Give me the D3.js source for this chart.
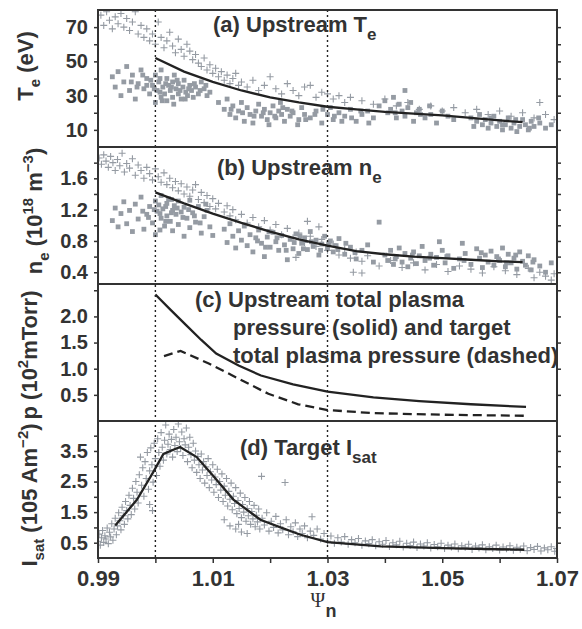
<!DOCTYPE html>
<html>
<head>
<meta charset="utf-8">
<script src="https://cdn.jsdelivr.net/npm/d3@7"></script>
<style>
body { margin: 0; background: #fff; }
text { font-family: "Liberation Sans", Arial, sans-serif; font-weight: bold; fill: #333; }
</style>
</head>
<body>
<svg id="chart" width="582" height="629"></svg>
<script>
// ---- data ----
const psiTicks = [0.99, 1.00, 1.01, 1.02, 1.03, 1.04, 1.05, 1.06, 1.07];
const psiLabels = [0.99, 1.01, 1.03, 1.05, 1.07];
const separatrixMarks = [1.00, 1.03];

const teTicks = [10, 20, 30, 40, 50, 60, 70];
const teLabels = [10, 30, 50, 70];
const neTicks = [0.4, 0.6, 0.8, 1.0, 1.2, 1.4, 1.6, 1.8];
const neLabels = [0.4, 0.8, 1.2, 1.6];
const pTicks = [0.5, 1.0, 1.5, 2.0, 2.5];
const pLabels = [0.5, 1.0, 1.5, 2.0];
const isatTicks = [0.5, 1.0, 1.5, 2.0, 2.5, 3.0, 3.5, 4.0];
const isatLabels = [0.5, 1.5, 2.5, 3.5];

// (a) upstream Te
const teCrosses = [[0.9905,77],[0.991,71],[0.9915,79],[0.992,74],[0.9925,69],[0.993,76],[0.9935,72],[0.994,78],[0.9945,70],[0.995,75],[0.9955,68],[0.996,73],[0.9965,79],[0.997,66],[0.9975,71],[0.998,64],[0.9985,69],[0.999,62],[0.9995,66],[1.0,60],[1.0005,73],[1.001,64],[1.0015,58],[1.002,62],[1.0025,67],[1.003,59],[1.0035,55],[1.004,63],[1.0045,57],[1.005,53],[1.0055,60],[1.006,56],[1.0065,51],[1.007,54],[1.0075,49],[1.008,47],[1.0085,52],[1.009,45],[1.0095,48],[1.010,43],[1.0105,46],[1.011,41],[1.0115,44],[1.012,39],[1.0125,42],[1.013,37],[1.0135,40],[1.014,43],[1.0145,36],[1.015,38],[1.016,35],[1.017,39],[1.018,33],[1.019,36],[1.020,41],[1.021,34],[1.022,31],[1.023,37],[1.024,33],[1.025,30],[1.026,35],[1.027,36],[1.028,29],[1.029,32],[1.030,31],[1.031,28],[1.032,30],[1.033,26],[1.034,29],[1.036,27],[1.038,25],[1.040,28],[1.042,24],[1.044,26],[1.046,22],[1.048,24],[1.050,21],[1.052,23],[1.054,20],[1.056,22],[1.058,19],[1.060,21],[1.062,18],[1.064,20],[1.066,17],[1.068,19],[1.0695,16],[1.067,26]];
const teSquares = [[0.9925,41],[0.993,35],[0.9935,44],[0.994,30],[0.9945,38],[0.995,47],[0.9955,33],[0.996,42],[0.9965,28],[0.997,37],[0.9975,45],[0.998,34],[0.9985,40],[0.999,31],[0.9995,36],[1.0,26],[1.0,42],[1.0003,33],[1.0006,38],[1.001,29],[1.001,45],[1.0013,35],[1.0016,31],[1.002,40],[1.002,27],[1.0023,36],[1.0026,33],[1.003,38],[1.003,29],[1.0033,42],[1.0036,34],[1.004,31],[1.004,37],[1.0045,28],[1.0048,35],[1.005,39],[1.0053,32],[1.0056,30],[1.006,36],[1.0063,33],[1.0066,29],[1.007,35],[1.0075,31],[1.008,38],[1.0085,34],[1.009,30],
  [0.9985,36],[0.9992,39],[0.9998,34],[1.0008,32],[1.0018,37],[1.0028,35],[1.0038,39],[1.0043,33],[1.0058,34],[1.0068,37],[1.0078,33],[1.0088,36],[1.0008,40],[1.0012,27],[0.9978,42],[0.9968,35],[1.0052,28],[1.0032,25],[0.9958,38],[1.0095,32],
  [1.011,26],[1.012,22],[1.0125,28],[1.013,19],[1.0135,24],[1.014,17],[1.0145,21],[1.015,26],[1.0155,15],[1.016,23],[1.0165,19],[1.017,14],[1.0175,21],[1.018,25],[1.0185,18],[1.019,22],[1.0195,16],[1.020,20],[1.0205,24],[1.021,17],[1.0215,21],[1.022,19],[1.0225,15],[1.023,22],[1.0235,18],[1.024,20],[1.025,16],[1.0255,23],[1.026,19],[1.027,17],[1.028,21],[1.029,14],[1.030,19],[1.0305,23],[1.031,16],[1.032,20],[1.033,18],[1.034,22],[1.035,15],[1.036,19],[1.037,21],[1.038,17],
  [1.0172,18],[1.0188,20],[1.0208,18],[1.0222,23],[1.0238,21],[1.0262,16],[1.0278,19],[1.0292,22],[1.0312,18],[1.0325,15],[1.0342,17],[1.0358,21],[1.0152,20],[1.0132,22],[1.0198,13],[1.0248,13],[1.0218,26],[1.0372,14],
  [1.039,24],[1.040,27],[1.0405,20],[1.041,22],[1.0415,29],[1.042,17],[1.0425,25],[1.043,21],[1.0435,18],[1.0435,33],[1.044,23],[1.0445,26],[1.045,15],[1.0455,20],[1.046,22],[1.047,17],[1.048,19],[1.049,14],[1.050,21],[1.051,18],[1.052,16],[1.0462,19],[1.0478,24],[1.0418,20],
  [1.055,17],[1.0555,12],[1.056,15],[1.0565,19],[1.057,13],[1.0575,16],[1.058,11],[1.0585,14],[1.059,18],[1.0595,12],[1.060,15],[1.0605,10],[1.061,13],[1.0615,17],[1.062,11],[1.0625,14],[1.063,9],[1.0635,12],[1.064,16],[1.0645,13],[1.065,10],[1.0655,15],[1.066,12],[1.067,14],[1.068,11],[1.069,13],[1.0585,17],[1.0605,13],[1.0628,16],[1.0652,11],[1.0668,17]];
const teFit = [[1.000,52],[1.005,44],[1.010,38],[1.015,33],[1.020,29],[1.025,26],[1.030,23.5],[1.035,22],[1.040,20.5],[1.045,19.5],[1.050,18.5],[1.055,17],[1.060,15.5],[1.064,14.5]];

// (b) upstream ne
const neCrosses = [[0.9902,1.86],[0.9906,1.78],[0.991,1.90],[0.9914,1.82],[0.9918,1.74],[0.9922,1.88],[0.9926,1.80],[0.993,1.70],[0.9934,1.84],[0.9938,1.76],[0.9942,1.92],[0.9946,1.68],[0.995,1.79],[0.9955,1.73],[0.996,1.85],[0.9965,1.64],[0.997,1.77],[0.9975,1.70],[0.998,1.60],[0.9985,1.74],[0.999,1.66],[0.9995,1.58],[1.0,1.72],[1.0005,1.62],[1.001,1.55],[1.0015,1.67],[1.002,1.52],[1.0025,1.60],[1.003,1.48],[1.0035,1.56],[1.004,1.44],[1.0045,1.53],[1.005,1.40],[1.0055,1.49],[1.006,1.37],[1.0065,1.45],[1.007,1.52],[1.0075,1.33],[1.008,1.42],[1.0085,1.29],[1.009,1.38],[1.0095,1.24],[1.010,1.34],[1.0105,1.21],[1.011,1.28],[1.012,1.17],[1.0125,1.25],[1.013,1.12],[1.0135,1.20],[1.014,1.07],[1.015,1.14],[1.016,1.03],[1.017,1.10],[1.018,0.98],[1.019,1.06],[1.020,0.94],[1.021,1.01],[1.022,0.88],[1.023,0.96],[1.024,0.84],[1.025,0.90],[1.026,0.78],[1.027,0.86],[1.028,0.73],[1.029,0.82],[1.030,0.68],[1.031,0.76],[1.032,0.62],[1.033,0.70],[1.034,0.58],[1.035,0.66],[1.036,0.54],[1.037,0.61],[1.039,0.48],[1.041,0.55],[1.043,0.46],[1.045,0.52],[1.047,0.43],[1.049,0.50],[1.051,0.41],[1.053,0.48],[1.055,0.44],[1.057,0.39],[1.059,0.47],[1.061,0.42],[1.063,0.37],[1.065,0.45],[1.066,0.33],[1.067,0.40],[1.068,0.35],[1.069,0.30],[1.0695,0.38],[1.0265,1.05],[1.0285,0.98],[1.0245,0.59],[1.0345,0.40],[1.036,0.39]];
const neSquares = [[0.9925,1.06],[0.993,1.22],[0.9935,0.98],[0.994,1.15],[0.9945,1.30],[0.995,1.02],[0.9955,1.19],[0.996,0.92],[0.9965,1.27],[0.997,1.08],[0.9975,1.36],[0.998,0.95],[0.9985,1.14],[0.999,1.24],[0.9995,1.03],[1.0,1.31],[1.0,0.88],[1.0003,1.18],[1.0006,1.26],[1.001,1.09],[1.001,1.38],[1.0013,1.21],[1.0016,0.99],[1.002,1.28],[1.002,1.12],[1.0023,1.34],[1.0026,1.05],[1.003,1.19],[1.003,0.93],[1.0033,1.25],[1.0036,1.14],[1.004,1.31],[1.004,1.01],[1.0045,1.17],[1.005,0.86],[1.005,1.23],[1.0055,1.09],[1.006,1.32],[1.006,0.97],[1.0065,1.16],[1.007,1.04],[1.0075,1.24],[1.008,0.90],[1.0085,1.11],[1.009,1.19],[1.0095,0.98],[1.010,0.87],
  [0.9988,1.10],[0.9998,1.20],[1.0008,1.15],[1.0018,1.24],[1.0028,1.16],[1.0038,1.22],[1.0048,1.10],[1.0058,1.20],[1.0068,1.12],[1.0018,1.05],[1.0028,1.33],[1.0008,0.94],[0.9978,1.18],[1.0078,1.03],[1.0088,1.27],
  [1.012,0.95],[1.0125,0.78],[1.013,1.02],[1.0135,0.86],[1.014,0.71],[1.0145,0.93],[1.015,0.81],[1.0155,0.99],[1.016,0.74],[1.0165,0.88],[1.017,0.66],[1.0175,0.84],[1.018,0.94],[1.0185,0.77],[1.019,0.60],[1.0195,0.85],[1.020,0.72],[1.0205,0.91],[1.021,0.79],[1.0215,0.68],[1.022,0.87],[1.0225,0.75],[1.023,0.56],[1.0235,0.82],[1.024,0.70],[1.0245,0.89],[1.025,0.64],[1.0255,0.77],[1.026,0.84],[1.0265,0.69],[1.027,0.92],[1.0275,0.73],[1.028,0.81],[1.0285,0.62],[1.029,0.76],[1.0295,0.86],[1.030,0.71],[1.0305,0.80],[1.031,0.66],[1.0315,0.74],[1.032,0.83],[1.033,0.63],[1.034,0.72],[1.035,0.57],[1.036,0.68],[1.037,0.75],[1.038,0.53],[1.039,1.04],
  [1.0178,0.80],[1.0192,0.72],[1.0212,0.84],[1.0228,0.68],[1.0242,0.78],[1.0258,0.70],[1.0272,0.79],[1.0288,0.68],[1.0302,0.76],[1.0318,0.69],[1.0332,0.77],[1.0348,0.65],[1.0198,0.92],[1.0252,0.86],
  [1.040,0.62],[1.0405,0.55],[1.041,0.68],[1.0415,0.50],[1.042,0.60],[1.0425,0.71],[1.043,0.53],[1.0435,0.64],[1.044,0.47],[1.0445,0.58],[1.045,0.66],[1.0455,0.51],[1.046,0.61],[1.0465,0.73],[1.047,0.55],[1.048,0.63],[1.0485,0.49],[1.049,0.59],[1.050,0.68],[1.0505,0.52],[1.051,0.61],[1.052,0.45],[1.053,0.57],[1.054,0.64],[1.055,0.50],[1.056,0.70],[1.0565,0.58],[1.057,0.46],[1.0575,0.62],[1.058,0.53],[1.0585,0.67],[1.059,0.49],[1.0595,0.60],[1.060,0.55],[1.0605,0.71],[1.061,0.47],[1.0615,0.63],[1.062,0.52],[1.0625,0.58],[1.063,0.44],[1.0635,0.66],[1.064,0.54],[1.0645,0.49],[1.065,0.61],[1.0655,0.43],[1.066,0.56],[1.067,0.48],[1.068,0.40],[1.069,0.52],[1.0495,0.79],[1.0535,0.77],
  [1.0418,0.57],[1.0448,0.62],[1.0478,0.58],[1.0508,0.60],[1.0538,0.55],[1.0568,0.65],[1.0598,0.57],[1.0628,0.62],[1.0658,0.53],[1.0612,0.52]];
const neFit = [[1.000,1.42],[1.005,1.28],[1.010,1.15],[1.015,1.03],[1.020,0.92],[1.025,0.82],[1.030,0.74],[1.035,0.67],[1.040,0.63],[1.045,0.60],[1.050,0.58],[1.055,0.56],[1.060,0.54],[1.064,0.53]];

// (c) total plasma pressure
const pUpstream = [[1.000,2.42],[1.0027,2.12],[1.0054,1.83],[1.008,1.55],[1.0106,1.29],[1.0145,1.06],[1.0184,0.87],[1.024,0.70],[1.030,0.56],[1.038,0.45],[1.046,0.38],[1.055,0.32],[1.0646,0.27]];
const pTarget = [[1.0015,1.24],[1.0044,1.34],[1.0093,1.10],[1.0145,0.81],[1.0197,0.52],[1.0249,0.32],[1.030,0.21],[1.038,0.15],[1.050,0.12],[1.0646,0.10]];

// (d) target Isat
const isatCrosses = [[0.9900,0.55],[0.9902,0.78],[0.9904,0.42],[0.9906,0.66],[0.9908,0.90],[0.9910,0.51],[0.9912,0.73],[0.9914,0.62],[0.9916,0.98],[0.9918,0.47],[0.9920,0.84],[0.9922,0.69],[0.9924,1.12],[0.9926,0.58],[0.9928,0.95],[0.9930,1.30],[0.9932,0.76],[0.9934,1.05],
  [0.9936,1.48],[0.9938,1.22],[0.9940,0.92],[0.9942,1.66],[0.9944,1.38],[0.9946,1.10],[0.9948,1.85],[0.9950,1.55],[0.9952,1.28],[0.9954,2.05],[0.9956,1.72],[0.9958,1.42],[0.9960,2.28],[0.9962,1.95],[0.9964,1.60],[0.9966,2.50],[0.9968,2.15],[0.9970,1.80],[0.9972,2.72],[0.9974,3.30],[0.9976,2.38],[0.9978,2.95],[0.9980,2.02],[0.9982,3.15],[0.9984,2.60],[0.9986,3.45],[0.9988,2.25],[0.9990,2.85],[0.9990,1.75],[0.9992,3.60],[0.9994,3.05],[0.9995,1.55],[0.9996,2.48],[0.9998,3.75],[1.0000,3.25],[1.0002,2.70],[1.0004,3.90],[1.0006,3.45],[1.0008,3.00],[1.0010,4.10],[1.0012,3.62],[1.0014,3.20],[1.0016,3.85],[1.0018,4.35],[1.0020,3.40],[1.0022,3.72],[1.0024,4.05],[1.0026,3.55],[1.0028,3.88],[1.0030,3.30],[1.0032,4.20],[1.0034,3.68],[1.0036,3.95],[1.0038,3.48],[1.0040,4.38],[1.0042,3.80],[1.0044,3.58],[1.0046,4.12],[1.0048,3.35],[1.0050,3.90],[1.0052,3.70],[1.0054,4.25],[1.0056,3.15],[1.0058,3.62],[1.0060,3.95],[1.0062,3.38],[1.0064,2.95],[1.0066,3.75],[1.0068,3.20],[1.0070,3.50],[1.0072,2.80],[1.0074,3.32],[1.0076,3.05],[1.0078,2.60],[1.0080,3.40],[1.0082,2.88],[1.0084,3.15],[1.0086,2.45],[1.0088,2.98],[1.0090,2.70],[1.0092,3.25],[1.0094,2.30],[1.0096,2.82],[1.0098,2.55],[1.0100,3.05],[1.0102,2.15],[1.0104,2.65],[1.0106,2.40],[1.0108,2.90],[1.0110,1.98],[1.0112,2.50],[1.0114,2.22],[1.0116,2.75],[1.0118,1.85],[1.0120,2.35],[1.0120,1.25],[1.0122,2.05],[1.0124,2.60],[1.0126,1.70],[1.0128,2.18],[1.0130,1.92],[1.0130,1.05],[1.0132,2.45],[1.0134,1.58],[1.0136,2.02],[1.0138,1.78],[1.0140,2.30],[1.0140,0.95],[1.0142,1.45],[1.0144,1.88],[1.0145,1.10],[1.0146,1.62],[1.0148,2.12],[1.0150,1.32],[1.0150,0.85],[1.0152,1.75],[1.0154,1.50],[1.0156,1.98],[1.0158,1.20],[1.0160,1.62],[1.0160,0.80],[1.0162,1.38],[1.0164,1.85],[1.0166,1.10],[1.0168,1.52],[1.0170,1.28],[1.0172,1.72],[1.0174,1.02],[1.0176,1.40],[1.0178,1.18],[1.0180,1.60],[1.0182,0.95],[1.0185,2.67],[1.0186,1.30],[1.0190,1.08],[1.0194,1.48],[1.0198,0.88],[1.0202,1.20],[1.0206,1.00],[1.0210,1.36],[1.0214,0.82],[1.0218,1.12],[1.0222,0.92],[1.0226,2.47],[1.0228,1.25],[1.0232,0.76],[1.0236,1.02],[1.0240,0.86],[1.0244,1.15],[1.0248,0.70],[1.0252,0.95],[1.0256,0.80],[1.0260,1.05],[1.0265,0.66],[1.0270,0.88],[1.0273,1.35],[1.0276,0.74],[1.0282,0.95],[1.0288,0.62],[1.0294,0.80],[1.0300,0.55],[1.0306,0.72],[1.0312,0.48],[1.0318,0.66],[1.0324,0.52],[1.0330,0.70],[1.0336,0.45],[1.0342,0.60],[1.0348,0.50],[1.0354,0.64],[1.0360,0.42],[1.0366,0.56],[1.0372,0.47],[1.0378,0.60],[1.0384,0.40],[1.0390,0.53],[1.0396,0.45],[1.0402,0.57],[1.0408,0.38],[1.0414,0.50],[1.0420,0.43],[1.0426,0.55],[1.0432,0.36],[1.0438,0.48],[1.0444,0.41],[1.0450,0.52],[1.0456,0.34],[1.0462,0.46],[1.0468,0.39],[1.0474,0.50],[1.0480,0.33],[1.0486,0.44],[1.0492,0.37],[1.0498,0.48],[1.0504,0.31],[1.0510,0.42],[1.0516,0.36],[1.0522,0.46],[1.0528,0.30],[1.0534,0.40],[1.0540,0.35],[1.0546,0.45],[1.0552,0.28],[1.0558,0.39],[1.0564,0.33],[1.0570,0.43],[1.0576,0.27],[1.0582,0.37],[1.0588,0.31],[1.0594,0.42],[1.0600,0.26],[1.0606,0.36],[1.0612,0.30],[1.0618,0.40],[1.0624,0.25],[1.0630,0.35],[1.0636,0.29],[1.0642,0.39],[1.0648,0.24],[1.0654,0.34],[1.0660,0.28],[1.0666,0.38],[1.0672,0.23],[1.0678,0.33],[1.0684,0.27],[1.0690,0.37],[1.0696,0.22],[1.0699,0.31]];
const isatFit = [[0.993,1.06],[0.9968,1.91],[0.9996,2.8],[1.0014,3.4],[1.0043,3.63],[1.0072,3.3],[1.0101,2.68],[1.0136,1.91],[1.0183,1.25],[1.0218,1.0],[1.0253,0.76],[1.030,0.52],[1.0393,0.38],[1.050,0.32],[1.0643,0.27]];

// ---- layout ----
const svg = d3.select("#chart");
const x = d3.scaleLinear().domain([0.99, 1.07]).range([98, 557]);
const panelTop = [10, 147, 284, 421];
const panelH = 137;
const ink = "#333";
const dotGray = "#959ba3";

const yTe = d3.scaleLinear().domain([0, 80]).range([panelTop[0] + panelH, panelTop[0]]);
const yNe = d3.scaleLinear().domain([0.25, 2.0]).range([panelTop[1] + panelH, panelTop[1]]);
const yP = d3.scaleLinear().domain([0, 2.62]).range([panelTop[2] + panelH, panelTop[2]]);
const yIsat = d3.scaleLinear().domain([0, 4.48]).range([panelTop[3] + panelH, panelTop[3]]);

const fmt = d3.format(".1f");

const drawPanel = (i, y, ticks, labels, tickFmt) => {
    const top = panelTop[i];
    svg.append("clipPath").attr("id", "clip" + i)
        .append("rect").attr("x", x.range()[0]).attr("y", top)
        .attr("width", x.range()[1] - x.range()[0]).attr("height", panelH);

    const left = svg.append("g").attr("transform", `translate(${x.range()[0]},0)`)
        .call(d3.axisLeft(y).tickValues(ticks).tickSize(4).tickPadding(6)
            .tickFormat(d => labels.includes(d) ? tickFmt(d) : ""));
    left.select(".domain").remove();
    left.selectAll("line").attr("stroke", ink).attr("stroke-width", 1.5);
    left.selectAll("text").style("font-size", "20px");

    const right = svg.append("g").attr("transform", `translate(${x.range()[1]},0)`)
        .call(d3.axisRight(y).tickValues(ticks).tickSize(4).tickFormat(""));
    right.select(".domain").remove();
    right.selectAll("line").attr("stroke", ink).attr("stroke-width", 1.5);

    return svg.append("g").attr("clip-path", `url(#clip${i})`);
};

const drawCrosses = (g, data, y) => {
    g.append("path")
        .attr("d", data.map(d => `M${x(d[0]) - 3.5},${y(d[1])}h7M${x(d[0])},${y(d[1]) - 3.5}v7`).join(""))
        .attr("stroke", dotGray).attr("stroke-width", 1.1).attr("fill", "none");
};

const drawSquares = (g, data, y) => {
    g.selectAll(null).data(data).join("rect")
        .attr("x", d => x(d[0]) - 2.4).attr("y", d => y(d[1]) - 2.4)
        .attr("width", 4.8).attr("height", 4.8)
        .attr("fill", dotGray);
};

const drawLine = (g, data, y, dash) => {
    g.append("path").datum(data)
        .attr("d", d3.line().x(d => x(d[0])).y(d => y(d[1])))
        .attr("fill", "none").attr("stroke", "#222").attr("stroke-width", 2.3)
        .attr("stroke-dasharray", dash || null);
};

const gA = drawPanel(0, yTe, teTicks, teLabels, d3.format("d"));
drawCrosses(gA, teCrosses, yTe);
drawSquares(gA, teSquares, yTe);
drawLine(gA, teFit, yTe);

const gB = drawPanel(1, yNe, neTicks, neLabels, fmt);
drawCrosses(gB, neCrosses, yNe);
drawSquares(gB, neSquares, yNe);
drawLine(gB, neFit, yNe);

const gC = drawPanel(2, yP, pTicks, pLabels, fmt);
drawLine(gC, pUpstream, yP);
drawLine(gC, pTarget, yP, "9,5");

const gD = drawPanel(3, yIsat, isatTicks, isatLabels, fmt);
drawCrosses(gD, isatCrosses, yIsat);
drawLine(gD, isatFit, yIsat);

// dotted verticals through all panels
svg.append("g").selectAll("line").data(separatrixMarks).join("line")
    .attr("x1", d => x(d)).attr("x2", d => x(d))
    .attr("y1", panelTop[0]).attr("y2", panelTop[3] + panelH)
    .attr("stroke", "#222").attr("stroke-width", 1.4).attr("stroke-dasharray", "2,3");

// panel frames
panelTop.forEach(t => {
    svg.append("rect").attr("x", x.range()[0]).attr("y", t)
        .attr("width", x.range()[1] - x.range()[0]).attr("height", panelH)
        .attr("fill", "none").attr("stroke", ink).attr("stroke-width", 2);
});

// bottom axis
const bottom = svg.append("g").attr("transform", `translate(0,${panelTop[3] + panelH})`)
    .call(d3.axisBottom(x).tickValues(psiTicks).tickSize(5).tickPadding(7)
        .tickFormat(d => psiLabels.some(v => Math.abs(v - d) < 1e-9) ? d3.format(".2f")(d) : ""));
bottom.select(".domain").remove();
bottom.selectAll("line").attr("stroke", ink).attr("stroke-width", 1.5);
bottom.selectAll("text").style("font-size", "22px");

// x title
const xt = svg.append("text").attr("x", x(1.03) - 4).attr("y", 607).attr("text-anchor", "middle");
xt.append("tspan").text("Ψ").style("font-family", "'Liberation Serif', serif").style("font-weight", "normal").style("font-size", "20px");
xt.append("tspan").text("n").attr("dy", 10).style("font-size", "18px");

// y titles (rotated)
const yTitle = (cx, cy, parts) => {
    const t = svg.append("text").attr("transform", `translate(${cx},${cy}) rotate(-90)`)
        .attr("text-anchor", "middle").style("font-size", "22px");
    parts.forEach(p => {
        const s = t.append("tspan").text(p.t);
        if (p.sub) s.attr("dy", 7).style("font-size", "15px");
        if (p.sup) s.attr("dy", -9).style("font-size", "15px");
        if (p.back) s.attr("dy", p.back);
    });
};
yTitle(33, 66, [{t: "T"}, {t: "e", sub: true}, {t: " (eV)", back: -7}]);
yTitle(42, 211, [{t: "n"}, {t: "e", sub: true}, {t: " (10", back: -7}, {t: "18", sup: true}, {t: " m", back: 9}, {t: "−3", sup: true}, {t: ")", back: 9}]);
yTitle(37, 355, [{t: "p (10"}, {t: "2", sup: true}, {t: "mTorr)", back: 9}]);
yTitle(37, 495, [{t: "I"}, {t: "sat", sub: true}, {t: " (105 Am", back: -7}, {t: "−2", sup: true}, {t: ")", back: 9}]);

// panel annotations
const note = (px, py, parts) => {
    const t = svg.append("text").attr("x", px).attr("y", py).style("font-size", "22px");
    parts.forEach(p => {
        const s = t.append("tspan").text(p.t);
        if (p.sub) s.attr("dy", 8).style("font-size", "17px");
    });
};
note(213, 32, [{t: "(a) Upstream T"}, {t: "e", sub: true}]);
note(217, 175, [{t: "(b) Upstream n"}, {t: "e", sub: true}]);
note(195, 307, [{t: "(c) Upstream total plasma"}]);
note(233, 335, [{t: "pressure (solid) and target"}]);
note(233, 363, [{t: "total plasma pressure (dashed)"}]);
note(240, 455, [{t: "(d) Target I"}, {t: "sat", sub: true}]);
</script>
</body>
</html>
